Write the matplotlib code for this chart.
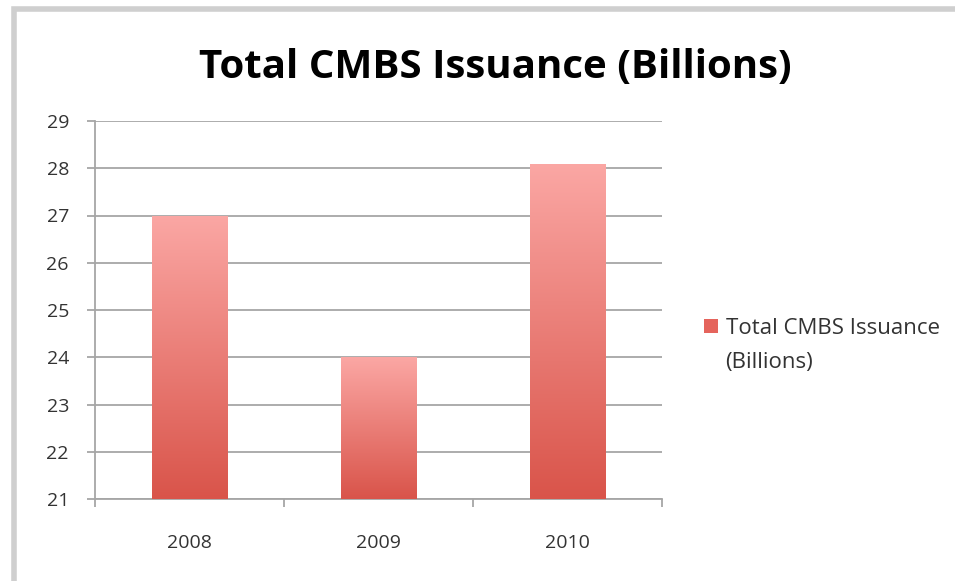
import numpy as np
import matplotlib
matplotlib.use("Agg")
import matplotlib.pyplot as plt
from matplotlib.colors import LinearSegmentedColormap
from matplotlib.patches import Rectangle, Patch

categories = ["2008", "2009", "2010"]
values = [27.0, 24.0, 28.1]
series_name_lines = ["Total CMBS Issuance", "(Billions)"]
title = "Total CMBS Issuance (Billions)"
yticks = [21, 22, 23, 24, 25, 26, 27, 28, 29]

fig = plt.figure(figsize=(9.55, 5.81), dpi=100)
ax = fig.add_axes([95/955, 1-499/581, (662-95)/955, (499-121)/581])

# figure border (top & left visible)
fig.add_artist(Rectangle((13.5/955, -0.1), 2.0, 1.1 - 9.5/581, transform=fig.transFigure,
                         fill=False, edgecolor="#cfcfcf", linewidth=4, zorder=0))

ymin, ymax = 21, 29
x = np.arange(len(categories))
bars = ax.bar(x, [v - ymin for v in values], bottom=ymin, width=0.4,
              color="none", edgecolor="none", zorder=3)

cmap = LinearSegmentedColormap.from_list("g", ["#d9544a", "#fba7a4"])
grad = np.linspace(0, 1, 256).reshape(-1, 1)
for b in bars:
    x0, w = b.get_x(), b.get_width()
    y0, h = b.get_y(), b.get_height()
    im = ax.imshow(grad, cmap=cmap, origin="lower", aspect="auto",
                   extent=(x0, x0 + w, y0, y0 + h), zorder=3, interpolation="bilinear")
    im.set_clip_path(b)

ax.set_xlim(-0.5, len(categories) - 0.5)
ax.set_ylim(ymin, ymax)
ax.set_yticks(yticks)
ax.set_yticklabels([str(t) for t in yticks])
ax.yaxis.grid(True, color="#a6a6a6", linewidth=1.3, zorder=1)
ax.set_axisbelow(True)

for s in ["top", "right"]:
    ax.spines[s].set_visible(False)
for s in ["left", "bottom"]:
    ax.spines[s].set_color("#a6a6a6")
    ax.spines[s].set_linewidth(1.3)

ax.tick_params(axis="y", length=5.8, width=1.3, color="#a6a6a6", pad=13,
               labelsize=14, labelcolor="#333333")
ax.set_xticks(x)
ax.set_xticklabels(categories)
ax.tick_params(axis="x", length=0, pad=25, labelsize=14, labelcolor="#333333")
ax.set_xticks(np.arange(-0.5, len(categories)), minor=True)
ax.tick_params(axis="x", which="minor", length=5.8, width=1.3, color="#a6a6a6")

for lbl in ax.get_xticklabels() + ax.get_yticklabels():
    lbl.set_family("Open Sans")

fig.text(495/955, 1 - 78/581, title, ha="center", va="baseline",
         fontsize=29, fontweight="bold", family="Open Sans", color="#000000")

handles = [Patch(facecolor="#e5645c", edgecolor="none"),
           Patch(facecolor="none", edgecolor="none")]
leg = fig.legend(handles=handles, labels=series_name_lines, loc="upper left",
                 bbox_to_anchor=(704/955, 1 - 318/581), frameon=False,
                 prop={"family": "Open Sans", "size": 16},
                 handlelength=0.62, handleheight=0.62, handletextpad=0.35,
                 borderpad=0, borderaxespad=0, labelspacing=0.6)
for t in leg.get_texts():
    t.set_color("#333333")

fig.savefig("out.png", dpi=100)
